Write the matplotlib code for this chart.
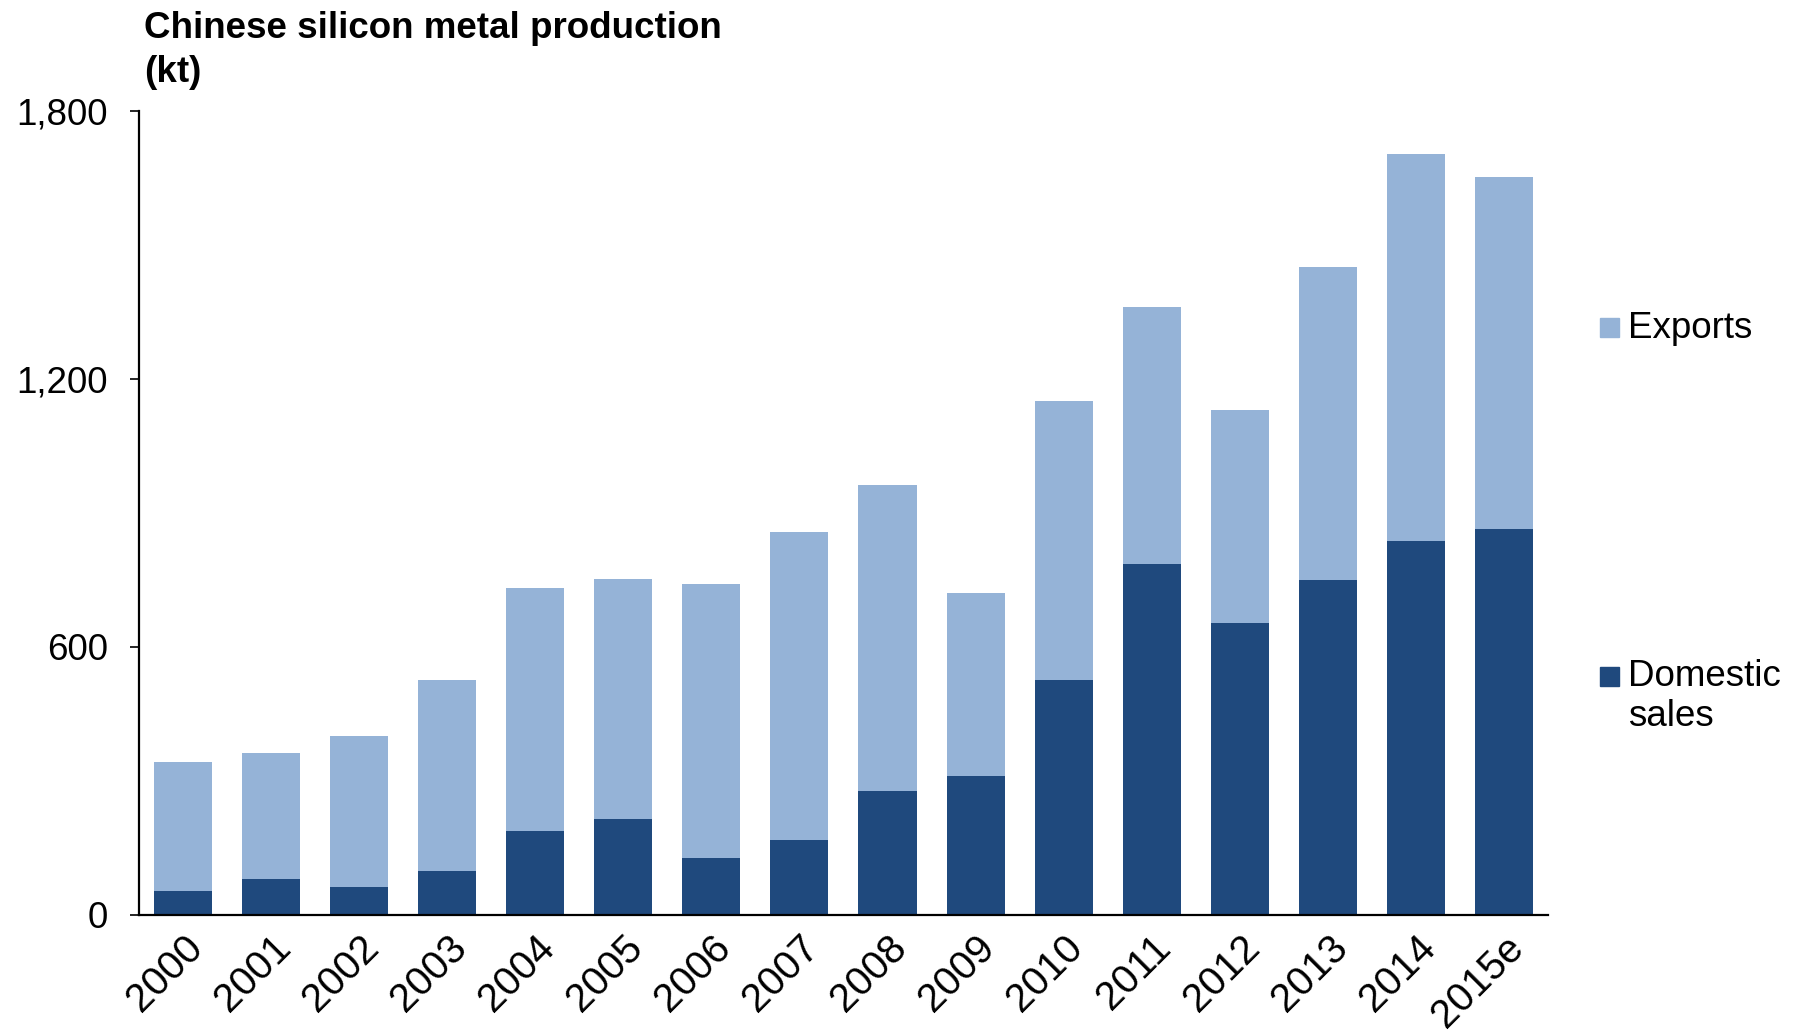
import matplotlib
matplotlib.use("Agg")
import matplotlib.pyplot as plt
from matplotlib.patches import Rectangle
from matplotlib.ticker import FuncFormatter

plt.rcParams['font.family'] = ['Liberation Sans', 'DejaVu Sans']

years = ["2000", "2001", "2002", "2003", "2004", "2005", "2006", "2007",
         "2008", "2009", "2010", "2011", "2012", "2013", "2014", "2015e"]
domestic = [54, 79, 62, 97, 187, 215, 128, 167, 277, 310, 526, 785, 654, 749, 836, 864]
total = [341, 362, 400, 526, 731, 751, 741, 856, 962, 721, 1151, 1362, 1131, 1451, 1703, 1651]
exports = [t - d for t, d in zip(total, domestic)]

dark_blue = '#1F497D'
light_blue = '#95B3D7'

fig = plt.figure(figsize=(17.95, 10.35), dpi=100)
ax = fig.add_axes([0.0774, 0.1162, 0.785, 0.7766])

x = range(len(years))
ax.bar(x, domestic, width=0.66, color=dark_blue)
ax.bar(x, exports, width=0.66, bottom=domestic, color=light_blue)

ax.set_xlim(-0.5, len(years) - 0.5)
ax.set_ylim(0, 1800)
ax.set_yticks([0, 600, 1200, 1800])
ax.yaxis.set_major_formatter(FuncFormatter(lambda v, p: f"{int(v):,}"))

for side in ['top', 'right']:
    ax.spines[side].set_visible(False)
for side in ['left', 'bottom']:
    ax.spines[side].set_linewidth(1.6)
    ax.spines[side].set_color('black')

ax.tick_params(axis='y', length=6.5, width=1.2, pad=16, labelsize=26.5)
ax.tick_params(axis='x', length=0, pad=10, labelsize=29)
ax.set_xticks(list(x))
ax.set_xticklabels(years, rotation=45, ha='right', va='top', rotation_mode='anchor')

# title in the top left corner
fig.text(0.0802, 0.963, "Chinese silicon metal production", fontsize=26.5,
         fontweight='bold', va='baseline')
fig.text(0.0802, 0.921, "(kt)", fontsize=26.5, fontweight='bold', va='baseline')

# legend entries placed to the right of the bars
sq_w = 19 / 1795
sq_h = 19 / 1035
fig.patches.append(Rectangle((1600 / 1795, 1 - 337 / 1035), sq_w, sq_h,
                             transform=fig.transFigure, color=light_blue))
fig.text(1628 / 1795, 1 - 328 / 1035, "Exports", fontsize=26.5, va='center')
fig.patches.append(Rectangle((1600 / 1795, 1 - 686 / 1035), sq_w, sq_h,
                             transform=fig.transFigure, color=dark_blue))
fig.text(1628 / 1795, 1 - 677 / 1035, "Domestic", fontsize=26.5, va='center')
fig.text(1628 / 1795, 1 - 717 / 1035, "sales", fontsize=26.5, va='center')

fig.savefig("out.png", dpi=100)
